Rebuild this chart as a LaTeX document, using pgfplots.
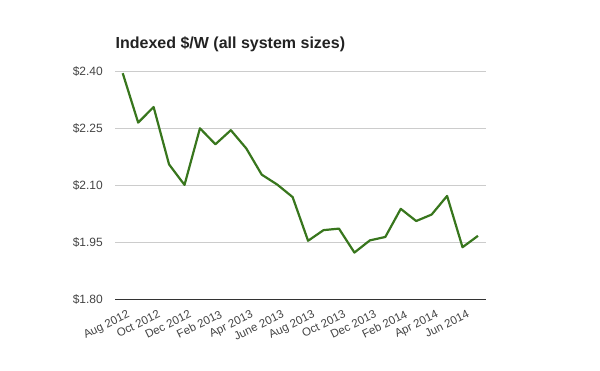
\documentclass[border=0pt]{standalone}
\usepackage{pgfplots}
\pgfplotsset{compat=1.18}
\usepackage{fontspec}
\setmainfont{Liberation Sans}
\definecolor{linegreen}{HTML}{38761D}
\definecolor{gridgray}{HTML}{CCCCCC}
\definecolor{labelgray}{HTML}{444444}
\definecolor{titlecol}{HTML}{222222}
\definecolor{axiscol}{HTML}{333333}
\begin{document}
\begin{tikzpicture}[x=1pt,y=1pt]
\useasboundingbox (0,0) rectangle (600,371);
\node[anchor=base west, inner sep=0pt, font=\fontsize{16}{19}\selectfont\bfseries, text=titlecol] at (115.5,322) {Indexed \$/W (all system sizes)};
\begin{axis}[
  at={(115pt,71.7pt)}, anchor=south west,
  scale only axis, width=370.7pt, height=228pt,
  xmin=-0.5, xmax=23.5, ymin=1.80, ymax=2.40,
  xtick={0,2,...,22},
  xticklabels={Aug 2012, Oct 2012, Dec 2012, Feb 2013, Apr 2013, June 2013, Aug 2013, Oct 2013, Dec 2013, Feb 2014, Apr 2014, Jun 2014},
  ytick={1.80,1.95,2.10,2.25,2.40},
  yticklabels={\$1.80,\$1.95,\$2.10,\$2.25,\$2.40},
  ymajorgrids, grid style={gridgray, line width=1pt},
  major tick length=0pt,
  axis x line=bottom, axis y line=left,
  y axis line style={draw=none},
  x axis line style={draw=axiscol, line width=1pt, -},
  tick label style={font=\fontsize{12}{14}\selectfont, text=labelgray},
  x tick label style={font=\fontsize{11.5}{14}\selectfont, rotate=26, anchor=north east, inner sep=0pt, yshift=-11pt, xshift=-1pt},
  y tick label style={anchor=east, inner sep=0pt, xshift=-12pt},
]
\addplot[linegreen, line width=2.2pt, mark=none, line join=round] coordinates {
(0,2.395) (1,2.265) (2,2.306) (3,2.155) (4,2.101) (5,2.250) (6,2.208) (7,2.245)
(8,2.197) (9,2.128) (10,2.102) (11,2.069) (12,1.954) (13,1.982) (14,1.986) (15,1.923)
(16,1.955) (17,1.964) (18,2.038) (19,2.006) (20,2.023) (21,2.072) (22,1.937) (23,1.967)
};
\end{axis}
\end{tikzpicture}
\end{document}
